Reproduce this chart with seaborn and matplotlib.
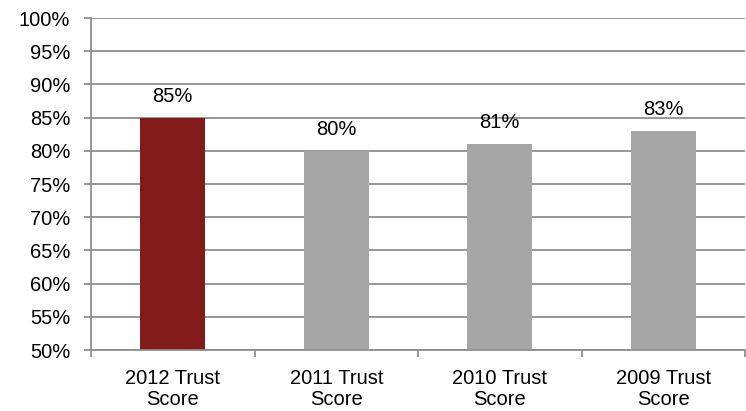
import matplotlib
matplotlib.use("Agg")
import matplotlib.pyplot as plt
from matplotlib.ticker import FixedLocator, PercentFormatter
import seaborn as sns
import pandas as pd

categories = ["2012 Trust\nScore", "2011 Trust\nScore", "2010 Trust\nScore", "2009 Trust\nScore"]
scores = [85, 80, 81, 83]
bar_colors = ["#841B1B", "#A6A6A6", "#A6A6A6", "#A6A6A6"]
y_ticks = [50, 55, 60, 65, 70, 75, 80, 85, 90, 95, 100]

sns.set_theme(style="white")
plt.rcParams["font.family"] = ["Liberation Sans", "DejaVu Sans"]

df = pd.DataFrame({"category": categories, "score": scores})

W, H = 746, 411
FS = 14.5
fig = plt.figure(figsize=(W / 100, H / 100), dpi=100)
ax = fig.add_axes([91 / W, (H - 350) / H, (745 - 91) / W, (350 - 18) / H])

sns.barplot(data=df, x="category", y="score", hue="category",
            palette=bar_colors, width=0.4, legend=False, ax=ax,
            saturation=1, edgecolor="none")

grid_c = "#8F8F8F"
ax.set_ylim(50, 100)
ax.set_xlim(-0.5, len(categories) - 0.5)
ax.yaxis.set_major_locator(FixedLocator(y_ticks))
ax.yaxis.set_major_formatter(PercentFormatter(decimals=0))
ax.yaxis.grid(True, color=grid_c, linewidth=1.3)
ax.set_axisbelow(True)

for side in ["top", "right"]:
    ax.spines[side].set_visible(False)
for side in ["left", "bottom"]:
    ax.spines[side].set_color(grid_c)
    ax.spines[side].set_linewidth(1.3)

ax.tick_params(axis="y", which="major", left=True, length=5, width=1.3,
               color=grid_c, labelsize=FS, labelcolor="black", pad=10)
ax.tick_params(axis="x", which="major", bottom=False, length=0,
               labelsize=FS, labelcolor="black", pad=14)
ax.set_xticks([i - 0.5 for i in range(len(categories) + 1)], minor=True)
ax.tick_params(axis="x", which="minor", bottom=True, length=5, width=1.3,
               color=grid_c)
for lbl in ax.get_xticklabels():
    lbl.set_linespacing(1.1)

ax.set_xlabel("")
ax.set_ylabel("")

for i, v in enumerate(scores):
    ax.annotate(f"{v}%", xy=(i, v), xytext=(0, 8.7), textcoords="offset points",
                ha="center", va="bottom", fontsize=FS, color="black")

fig.savefig("out.png", dpi=100)
